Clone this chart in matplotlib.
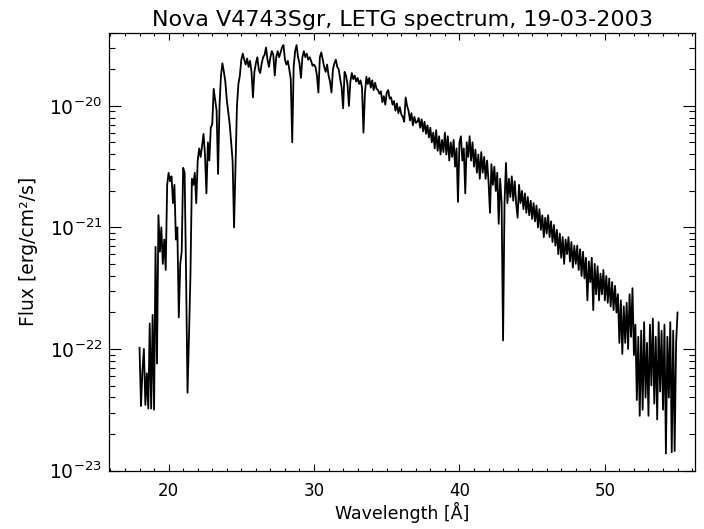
import numpy as np
import matplotlib
matplotlib.use("Agg")
import matplotlib.pyplot as plt
from matplotlib.ticker import MultipleLocator, FixedLocator, LogLocator, NullFormatter

title = "Nova V4743Sgr, LETG spectrum, 19-03-2003"
x_label = "Wavelength [Å]"
y_label = "Flux [erg/cm²/s]"
y_major_ticks = [1e-23, 1e-22, 1e-21, 1e-20]

# spectrum sampled every 0.1 A starting at 18.0 A, values are log10(flux)
wl_start = 18.0
wl_step = 0.1
log_flux = [
    -21.99, -22.47, -22.18, -22.00, -22.46, -22.20, -22.49, -21.79, -22.49, -21.72,  # 18
    -22.50, -21.16, -22.12, -20.90, -21.20, -21.00, -21.30, -21.10, -21.35, -20.65,  # 19
    -20.55, -20.62, -20.58, -20.80, -20.65, -21.10, -21.00, -21.74, -21.30, -21.20,  # 20
    -20.51, -20.55, -21.38, -22.36, -21.90, -21.40, -20.60, -20.65, -20.55, -20.80,  # 21
    -20.45, -20.35, -20.42, -20.33, -20.23, -20.40, -20.72, -20.30, -20.45, -20.18,  # 22
    -20.15, -19.86, -19.95, -20.04, -20.56, -20.00, -19.75, -19.65, -19.72, -19.80,  # 23
    -19.95, -20.05, -20.15, -20.30, -20.45, -21.00, -20.50, -20.00, -19.82, -19.75,  # 24
    -19.62, -19.57, -19.62, -19.66, -19.61, -19.68, -19.63, -19.72, -19.93, -19.72,  # 25
    -19.65, -19.60, -19.70, -19.73, -19.65, -19.60, -19.58, -19.52, -19.62, -19.68,  # 26
    -19.60, -19.55, -19.58, -19.75, -19.60, -19.55, -19.60, -19.56, -19.52, -19.50,  # 27
    -19.62, -19.66, -19.63, -19.70, -19.78, -20.30, -19.68, -19.55, -19.50, -19.60,  # 28
    -19.65, -19.77, -19.60, -19.55, -19.60, -19.57, -19.62, -19.60, -19.63, -19.67,  # 29
    -19.66, -19.68, -19.75, -19.89, -19.60, -19.56, -19.62, -19.68, -19.72, -19.66,  # 30
    -19.75, -19.80, -19.89, -19.70, -19.65, -19.62, -19.68, -19.70, -19.78, -19.85,  # 31
    -20.02, -19.72, -19.75, -19.82, -20.00, -19.80, -19.73, -19.78, -19.75, -19.80,  # 32
    -19.77, -19.82, -19.79, -19.85, -20.22, -19.90, -19.76, -19.82, -19.77, -19.85,  # 33
    -19.79, -19.87, -19.81, -19.86, -19.87, -19.90, -19.88, -19.97, -19.92, -19.99,  # 34
    -19.89, -19.87, -19.94, -19.93, -19.99, -19.96, -20.04, -19.98, -20.06, -20.01,  # 35
    -20.07, -20.09, -20.13, -19.93, -20.00, -20.04, -20.12, -20.06, -20.16, -20.09,  # 36
    -20.14, -20.13, -20.10, -20.18, -20.11, -20.21, -20.13, -20.23, -20.16, -20.26,  # 37
    -20.18, -20.30, -20.22, -20.35, -20.20, -20.37, -20.25, -20.40, -20.28, -20.38,  # 38
    -20.22, -20.40, -20.25, -20.45, -20.30, -20.42, -20.28, -20.50, -20.35, -20.79,  # 39
    -20.30, -20.25, -20.45, -20.35, -20.72, -20.30, -20.42, -20.25, -20.45, -20.30,  # 40
    -20.50, -20.36, -20.55, -20.40, -20.60, -20.38, -20.55, -20.42, -20.60, -20.45,  # 41
    -20.62, -20.88, -20.48, -20.65, -20.50, -20.70, -20.55, -20.97, -20.60, -20.80,  # 42
    -21.93, -20.80, -20.47, -20.80, -20.60, -20.75, -20.58, -20.78, -20.62, -20.80,  # 43
    -20.92, -20.65, -20.80, -20.70, -20.85, -20.72, -20.88, -20.75, -20.90, -20.78,  # 44
    -20.93, -20.80, -20.95, -20.82, -21.00, -20.85, -21.02, -20.90, -21.08, -20.92,  # 45
    -21.05, -20.90, -21.08, -20.95, -21.12, -20.98, -21.15, -21.02, -21.22, -21.05,  # 46
    -21.25, -21.08, -21.30, -21.10, -21.22, -21.08, -21.28, -21.12, -21.33, -21.15,  # 47
    -21.30, -21.15, -21.35, -21.18, -21.40, -21.20, -21.42, -21.25, -21.60, -21.28,  # 48
    -21.45, -21.25, -21.68, -21.30, -21.55, -21.32, -21.60, -21.38, -21.55, -21.35,  # 49
    -21.60, -21.40, -21.62, -21.42, -21.65, -21.45, -21.68, -21.48, -21.70, -21.55,  # 50
    -21.95, -21.60, -22.04, -21.65, -21.95, -21.62, -22.00, -21.55, -21.90, -21.50,  # 51
    -22.05, -21.80, -22.42, -21.90, -22.55, -21.85, -22.50, -21.78, -22.40, -21.95,  # 52
    -22.55, -21.80, -22.30, -21.75, -22.45, -21.90, -22.58, -21.78, -22.35, -21.85,  # 53
    -22.50, -21.80, -22.86, -21.90, -22.40, -21.78, -22.85, -21.85, -22.84, -21.95,  # 54
    -21.70,  # 55
]

wavelength = wl_start + wl_step * np.arange(len(log_flux))
flux = 10.0 ** np.array(log_flux)

fig = plt.figure(figsize=(7.04, 5.29), dpi=100)
ax = fig.add_axes([109 / 704, 1 - 470.5 / 529, 586 / 704, 437.8 / 529])

ax.plot(wavelength, flux, color="black", lw=1.3)

ax.set_yscale("log")
ax.set_xlim(15.9, 56.2)
ax.set_ylim(1e-23, 4.0e-20)

ax.xaxis.set_major_locator(MultipleLocator(10))
ax.xaxis.set_minor_locator(MultipleLocator(1))
ax.yaxis.set_major_locator(FixedLocator(y_major_ticks))
ax.yaxis.set_minor_locator(LogLocator(base=10, subs=np.arange(2, 10)))
ax.yaxis.set_minor_formatter(NullFormatter())

ax.tick_params(which="both", direction="in", top=True, right=True,
               colors="black", width=0.8)
ax.tick_params(axis="x", which="major", length=5, pad=8, labelsize=12)
ax.tick_params(axis="x", which="minor", length=2.5)
ax.tick_params(axis="y", which="major", length=8.5, pad=5, labelsize=13.5)
ax.tick_params(axis="y", which="minor", length=4)

for s in ax.spines.values():
    s.set_linewidth(0.9)
    s.set_color("black")

ax.set_title(title, fontsize=16, pad=5)
ax.set_xlabel(x_label, fontsize=12.5, labelpad=2)
ax.set_ylabel(y_label, fontsize=13.5, labelpad=8)

fig.savefig("out.png", dpi=100)
